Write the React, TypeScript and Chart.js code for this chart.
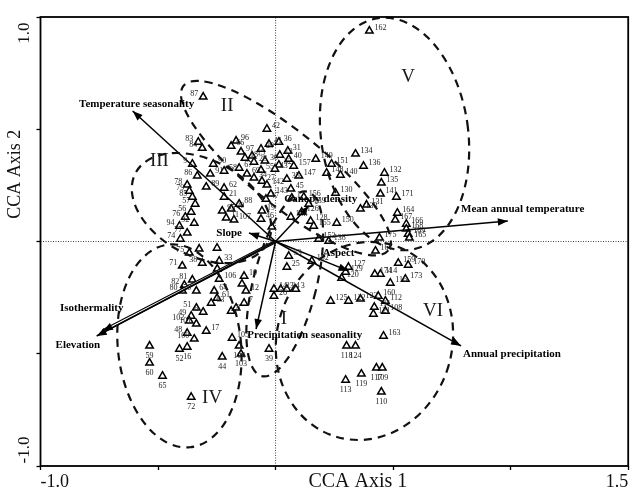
import React, { useEffect, useRef } from 'react';
import { Chart, registerables } from 'chart.js';
Chart.register(...registerables);

// ---- site scores (CCA axis 1, axis 2) ----
const siteLabels = [
  '162','87','42','83','84','66','96','97','18','15','28','29','41','36','31','40','157','13','30','32','43','67','90','91','9','58','69','55','34','27','142','143','62','86','89','78','79','85','57','56','76','94','92','77','74','21','95','11','20','107','88','47','19','46','',
  '147','35','45','1','156','149','148','151','140','130','134','136','132','135','141','171','131','133','164','167','166','168','169','165','175','139','128','155','150','138','154','126','153','161',
  '159','170','114','174','127','129','120','173','116','152','53','25','160','112','123','125','122','121','108','111','163','118','124','117','109','119','113','110',
  '14','26','23','24','3','39','10','12','7','8','105','104','103','44','','',
  '75','','','33','71','38','','106','82','81','80','70','64','61','63','51','6','49','102','101','48','17','100','52','16','59','60','65','72'
];
const siteX = [
  0.399,-0.308,-0.037,-0.329,-0.312,-0.189,-0.168,-0.147,-0.130,-0.100,-0.092,-0.062,-0.028,0.014,0.052,0.056,0.077,0.018,-0.045,0.014,-0.003,-0.155,-0.265,-0.278,-0.354,-0.219,-0.122,-0.062,-0.092,-0.058,-0.037,-0.020,-0.219,-0.333,-0.295,-0.376,-0.367,-0.354,-0.342,-0.359,-0.384,-0.409,-0.346,-0.376,-0.405,-0.219,-0.227,-0.210,-0.189,-0.177,-0.155,-0.041,-0.058,-0.062,-0.016,
  0.099,0.048,0.065,0.069,0.120,0.171,0.217,0.238,0.276,0.255,0.340,0.374,0.463,0.450,0.446,0.514,0.387,0.361,0.518,0.509,0.556,0.556,0.564,0.569,0.442,0.141,0.149,0.162,0.260,0.226,0.065,0.111,0.183,0.425,
  0.522,0.564,0.446,0.422,0.310,0.298,0.281,0.552,0.488,0.154,0.056,0.048,0.437,0.467,0.361,0.234,0.310,0.416,0.467,0.420,0.459,0.302,0.340,0.429,0.454,0.365,0.298,0.450,
  -0.007,-0.007,0.022,0.048,0.086,-0.028,-0.134,-0.126,-0.134,-0.189,-0.185,-0.155,-0.147,-0.227,-0.168,-0.143,
  -0.367,-0.325,-0.249,-0.240,-0.397,-0.312,-0.248,-0.240,-0.388,-0.354,-0.396,-0.337,-0.261,-0.249,-0.274,-0.337,-0.308,-0.359,-0.367,-0.337,-0.376,-0.295,-0.346,-0.409,-0.376,-0.536,-0.536,-0.481,-0.359
];
const siteY = [
  0.938,0.644,0.501,0.443,0.416,0.425,0.448,0.399,0.372,0.381,0.354,0.412,0.434,0.443,0.403,0.367,0.336,0.385,0.359,0.341,0.323,0.327,0.345,0.301,0.345,0.314,0.301,0.318,0.283,0.269,0.252,0.212,0.238,0.292,0.243,0.252,0.225,0.198,0.167,0.131,0.109,0.069,0.082,0.038,0.011,0.198,0.136,0.105,0.145,0.096,0.167,0.189,0.136,0.100,0.065,
  0.292,0.278,0.234,0.194,0.198,0.367,0.305,0.345,0.296,0.216,0.390,0.336,0.305,0.261,0.212,0.198,0.163,0.145,0.127,0.096,0.078,0.056,0.033,0.016,0.016,0.167,0.091,0.069,0.082,0.002,0.109,0.131,0.011,-0.042,
  -0.096,-0.105,-0.145,-0.145,-0.114,-0.136,-0.163,-0.167,-0.185,-0.087,-0.065,-0.114,-0.243,-0.265,-0.256,-0.265,-0.265,-0.323,-0.310,-0.292,-0.421,-0.465,-0.465,-0.563,-0.563,-0.590,-0.617,-0.670,
  -0.212,-0.243,-0.212,-0.212,-0.212,-0.479,-0.154,-0.220,-0.274,-0.310,-0.430,-0.465,-0.501,-0.514,-0.296,-0.189,
  -0.051,-0.033,-0.029,-0.087,-0.109,-0.096,-0.122,-0.167,-0.194,-0.171,-0.220,-0.220,-0.220,-0.252,-0.274,-0.296,-0.314,-0.332,-0.354,-0.367,-0.408,-0.399,-0.434,-0.479,-0.470,-0.465,-0.541,-0.599,-0.693
];

// ---- environmental vectors ----
const vectorNames = ['Temperature seasonality','Mean annual temperature','Annual precipitation','Elevation','Isothermality','Precipitation seasonality','Canopy density','Slope','Aspect'];
const vectorX = [-0.608, 0.988, 0.789, -0.761, -0.735, -0.083, 0.141, -0.113, 0.310];
const vectorY = [0.581, 0.091, -0.465, -0.421, -0.399, -0.390, 0.158, 0.038, -0.131];
const vectorLabelX = [-0.591, 0.789, 0.797, -0.841, -0.782, 0.124, 0.192, -0.143, 0.268];
const vectorLabelY = [0.612, 0.145, -0.501, -0.461, -0.296, -0.416, 0.189, 0.038, -0.051];
const vectorLabelAlign = ['center','left','left','center','center','center','center','right','center'];

// ---- groups (dashed ellipses) ----
const groupNames = ['I','II','III','IV','V','VI'];
const groupLabelX = [0.035, -0.206, -0.494, -0.270, 0.564, 0.670];
const groupLabelY = [-0.345, 0.604, 0.359, -0.697, 0.733, -0.310];
const ellipseCX = [0.039, 0.044, -0.315, -0.409, 0.506, 0.378];
const ellipseCY = [-0.189, 0.327, 0.149, -0.465, 0.479, -0.443];
const ellipseRX = [0.135, 0.559, 0.318, 0.262, 0.313, 0.373];
const ellipseRY = [0.423, 0.165, 0.214, 0.454, 0.521, 0.445];
const ellipseRot = [14, 38.8, 28, -6, -8, 16];

// ---- axes ----
const xMin = -1.0, xMax = 1.5, yMin = -1.0, yMax = 1.0;
const xTickText: Record<string, string> = { '-1': '-1.0', '1.5': '1.5' };
const yTickText: Record<string, string> = { '1': '1.0', '-1': '-1.0' };
const xTitle = 'CCA Axis 1';
const yTitle = 'CCA Axis 2';
const xTitleAt = 0.35;
const yTitleAt = 0.30;

const SERIF = '"Liberation Serif", "Times New Roman", serif';

const overlay = {
  id: 'overlay',
  beforeDraw(chart: any) {
    const { ctx } = chart;
    ctx.save();
    ctx.fillStyle = '#fff';
    ctx.fillRect(0, 0, chart.width, chart.height);
    ctx.restore();
  },
  afterDatasetsDraw(chart: any) {
    const { ctx, chartArea: ca, scales } = chart;
    const sx = scales.x, sy = scales.y;
    const px = (v: number) => sx.getPixelForValue(v);
    const py = (v: number) => sy.getPixelForValue(v);
    ctx.save();

    // dashed ellipses
    ctx.strokeStyle = '#111';
    ctx.lineWidth = 2.2;
    ctx.setLineDash([8, 6]);
    for (let i = 0; i < ellipseCX.length; i++) {
      const rx = Math.abs(px(ellipseRX[i]) - px(0));
      const ry = Math.abs(py(ellipseRY[i]) - py(0));
      ctx.beginPath();
      ctx.ellipse(px(ellipseCX[i]), py(ellipseCY[i]), rx, ry, (ellipseRot[i] * Math.PI) / 180, 0, Math.PI * 2);
      ctx.stroke();
    }
    ctx.setLineDash([]);

    // arrow heads
    const ox = px(0), oy = py(0);
    ctx.fillStyle = '#000';
    for (let i = 0; i < vectorX.length; i++) {
      const tx = px(vectorX[i]), ty = py(vectorY[i]);
      const a = Math.atan2(ty - oy, tx - ox);
      const L = 10, W = 3.8;
      ctx.beginPath();
      ctx.moveTo(tx, ty);
      ctx.lineTo(tx - L * Math.cos(a) + W * Math.sin(a), ty - L * Math.sin(a) - W * Math.cos(a));
      ctx.lineTo(tx - L * Math.cos(a) - W * Math.sin(a), ty - L * Math.sin(a) + W * Math.cos(a));
      ctx.closePath();
      ctx.fill();
    }

    // site labels
    ctx.fillStyle = '#222';
    ctx.font = `8px ${SERIF}`;
    ctx.textBaseline = 'middle';
    for (let i = 0; i < siteLabels.length; i++) {
      const t = siteLabels[i];
      if (!t) continue;
      const x = px(siteX[i]), y = py(siteY[i]);
      if (siteY[i] < -0.44) {
        ctx.textAlign = 'center';
        ctx.fillText(t, x, y + 10);
      } else if (siteX[i] < -0.3) {
        ctx.textAlign = 'right';
        ctx.fillText(t, x - 5, y - 3);
      } else {
        ctx.textAlign = 'left';
        ctx.fillText(t, x + 5, y - 3);
      }
    }

    // vector labels
    ctx.fillStyle = '#000';
    ctx.font = `bold 11px ${SERIF}`;
    for (let i = 0; i < vectorNames.length; i++) {
      ctx.textAlign = vectorLabelAlign[i] as CanvasTextAlign;
      ctx.fillText(vectorNames[i], px(vectorLabelX[i]), py(vectorLabelY[i]));
    }

    // group numerals
    ctx.fillStyle = '#1a1a1a';
    ctx.font = `19px ${SERIF}`;
    ctx.textAlign = 'center';
    for (let i = 0; i < groupNames.length; i++) {
      ctx.fillText(groupNames[i], px(groupLabelX[i]), py(groupLabelY[i]));
    }

    // frame
    ctx.strokeStyle = '#000';
    ctx.lineWidth = 1.8;
    ctx.strokeRect(ca.left, ca.top, ca.right - ca.left, ca.bottom - ca.top);

    // y tick labels (rotated)
    ctx.fillStyle = '#111';
    ctx.font = `17px ${SERIF}`;
    ctx.textAlign = 'center';
    ctx.textBaseline = 'middle';
    for (const k of Object.keys(yTickText)) {
      const v = Number(k);
      const y = py(v) + (v > 0 ? 16 : -16);
      ctx.save();
      ctx.translate(25, y);
      ctx.rotate(-Math.PI / 2);
      ctx.fillText(yTickText[k], 0, 0);
      ctx.restore();
    }

    // axis titles
    ctx.font = `20px ${SERIF}`;
    ctx.fillText(xTitle, px(xTitleAt), ca.bottom + 16);
    ctx.font = `18px ${SERIF}`;
    ctx.save();
    ctx.translate(15, py(yTitleAt));
    ctx.rotate(-Math.PI / 2);
    ctx.fillText(yTitle, 0, 0);
    ctx.restore();

    ctx.restore();
  },
};

export default function App() {
  const ref = useRef<HTMLCanvasElement>(null);
  useEffect(() => {
    document.body.style.margin = '0';
    const sites = siteX.map((x, i) => ({ x, y: siteY[i] }));
    const vecSets: any[] = [];
    vectorNames.forEach((n, i) => {
      const data = [{ x: 0, y: 0 }, { x: vectorX[i], y: vectorY[i] }];
      if (n === 'Isothermality') {
        vecSets.push({ type: 'line', label: n, data, borderColor: '#000', borderWidth: 3.6, pointRadius: 0, order: 3 });
        vecSets.push({ type: 'line', label: n + ' inner', data, borderColor: '#fff', borderWidth: 1.4, pointRadius: 0, order: 2 });
      } else {
        vecSets.push({ type: 'line', label: n, data, borderColor: '#000', borderWidth: 1.5, pointRadius: 0, order: 2 });
      }
    });
    const chart = new Chart(ref.current as HTMLCanvasElement, {
      type: 'scatter',
      data: {
        datasets: [
          { type: 'line', label: 'zeroX', data: [{ x: xMin, y: 0 }, { x: xMax, y: 0 }], borderColor: '#444', borderWidth: 1, borderDash: [1, 1.5], pointRadius: 0, order: 10 } as any,
          { type: 'line', label: 'zeroY', data: [{ x: 0, y: yMin }, { x: 0, y: yMax }], borderColor: '#444', borderWidth: 1, borderDash: [1, 1.5], pointRadius: 0, order: 10 } as any,
          {
            type: 'scatter', label: 'sites', data: sites, pointStyle: 'triangle', radius: 4.3,
            borderColor: '#000', backgroundColor: '#fff', borderWidth: 1.5, order: 5,
          } as any,
          ...vecSets,
        ],
      },
      options: {
        responsive: false,
        animation: false,
        devicePixelRatio: 1,
        layout: { padding: { top: 17, right: 3, left: 0, bottom: 0 } },
        plugins: { legend: { display: false }, tooltip: { enabled: false } },
        scales: {
          x: {
            type: 'linear', min: xMin, max: xMax,
            border: { display: false },
            grid: { drawOnChartArea: false, drawTicks: true, tickLength: 4, tickColor: '#000', tickWidth: 1.3 },
            ticks: {
              stepSize: 0.5, autoSkip: false, maxRotation: 0, minRotation: 0, align: 'inner', padding: 1,
              color: '#111', font: { family: SERIF, size: 18 },
              callback: (v: any) => xTickText[String(v)] ?? '',
            },
            afterFit: (s: any) => { s.height = 25; },
          },
          y: {
            type: 'linear', min: yMin, max: yMax,
            border: { display: false },
            grid: { drawOnChartArea: false, drawTicks: true, tickLength: 4, tickColor: '#000', tickWidth: 1.3 },
            ticks: { stepSize: 0.5, display: false },
            afterFit: (s: any) => { s.width = 40.5; },
          },
        },
      } as any,
      plugins: [overlay],
    });
    return () => chart.destroy();
  }, []);
  return (
    <div style={{ position: 'absolute', left: 0, top: 0, width: 634, height: 491, background: '#fff' }}>
      <canvas ref={ref} width={634} height={491} />
    </div>
  );
}
